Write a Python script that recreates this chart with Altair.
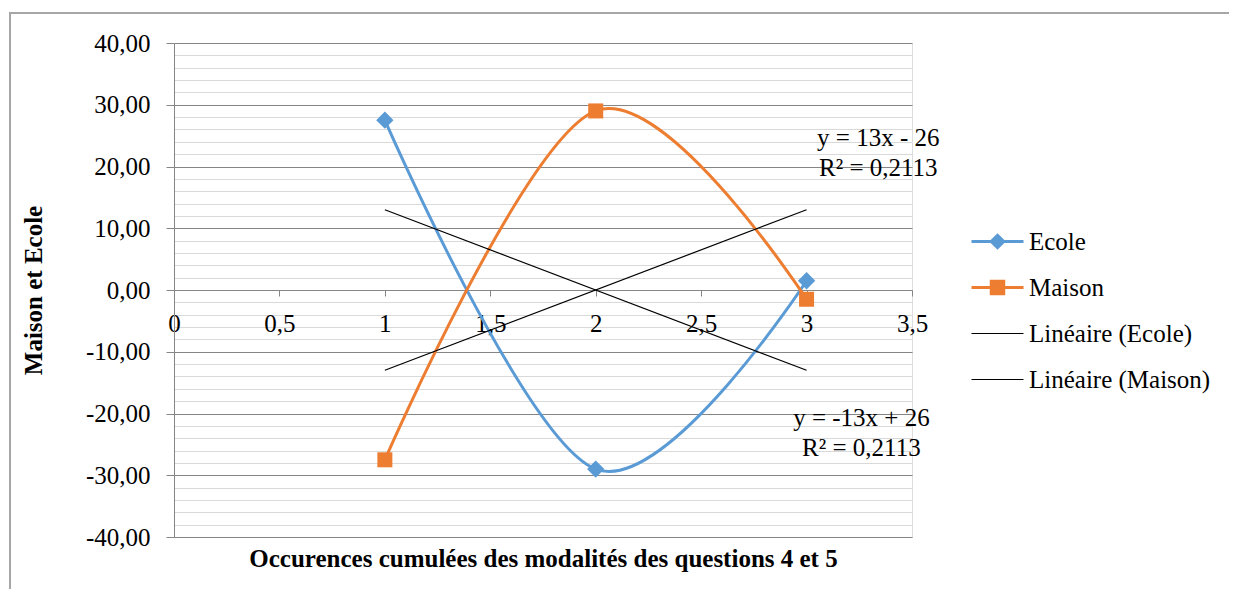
import altair as alt
import pandas as pd

# ---- data ----
x_vals = [1, 2, 3]
ecole = [27.5, -29.0, 1.5]
maison = [-27.5, 29.0, -1.5]
series_names = ["Ecole", "Maison", "Linéaire (Ecole)", "Linéaire (Maison)"]
series_colors = ["#5B9BD5", "#ED7D31", "#000000", "#000000"]

x_ticks = [0, 0.5, 1, 1.5, 2, 2.5, 3, 3.5]
y_ticks = list(range(-40, 41, 2))

ann_x = [3.34, 3.26]
ann_y = [24.6, -20.7]
ann_text = ["y = 13x - 26\nR² = 0,2113", "y = -13x + 26\nR² = 0,2113"]

FONT = "Liberation Serif"

df = pd.DataFrame(
    {"series": ["Ecole"] * 3 + ["Maison"] * 3,
     "x": x_vals + x_vals,
     "y": ecole + maison}
)
df_ann = pd.DataFrame({"x": ann_x, "y": ann_y, "text": ann_text})

xscale = alt.Scale(domain=[0, 3.5], nice=False, zero=False)
yscale = alt.Scale(domain=[-40, 40], nice=False)
cscale = alt.Scale(domain=series_names, range=series_colors)

shape_expr = ("datum.value === 'Ecole' ? 'M-1,0L1,0M0,-0.24L0.24,0L0,0.24L-0.24,0Z' : "
              "(datum.value === 'Maison' ? 'M-1,0L1,0M-0.24,-0.24L0.24,-0.24L0.24,0.24L-0.24,0.24Z' : 'M-1,0L1,0')")
sw_expr = "(datum.value === 'Ecole' || datum.value === 'Maison') ? 3 : 1"
col_expr = "scale('color', datum.value)"

legend = alt.Legend(
    title=None, orient="none", legendX=811, legendY=186,
    labelFont=FONT, labelFontSize=25, labelColor="#000000", labelOffset=19,
    symbolSize=2704, rowPadding=20, labelLimit=400,
    symbolType=alt.ExprRef(expr=shape_expr),
    symbolStrokeWidth=alt.ExprRef(expr=sw_expr),
    symbolFillColor=alt.ExprRef(expr=col_expr),
    symbolStrokeColor=alt.ExprRef(expr=col_expr),
    symbolOpacity=1,
)

xaxis = alt.Axis(
    values=x_ticks, tickCount=100, labelExpr="replace(toString(datum.value), '.', ',')",
    offset=-247, grid=False, domainColor="#868686", tickColor="#868686",
    tickSize=6, labelPadding=15, labelFont=FONT, labelFontSize=25, labelColor="#000000",
    title="Occurences cumulées des modalités des questions 4 et 5",
    titleFont=FONT, titleFontSize=25, titleFontWeight="bold", titleColor="#000000",
    titleY=268, titleBaseline="middle", labelFlush=False, labelOverlap=False,
)
yaxis = alt.Axis(
    values=y_ticks, tickCount=100,
    labelExpr="datum.value % 10 === 0 ? (datum.value < 0 ? '-' : '') + abs(datum.value) + ',00' : ''",
    grid=True,
    gridColor={"condition": {"test": "datum.value % 10 === 0", "value": "#858585"}, "value": "#d9d9d9"},
    tickColor={"condition": {"test": "datum.value % 10 === 0", "value": "#868686"}, "value": "transparent"},
    domainColor="#868686", tickSize=8, labelPadding=16,
    labelFont=FONT, labelFontSize=25, labelColor="#000000",
    title="Maison et Ecole", titleFont=FONT, titleFontSize=25, titleFontWeight="bold",
    titleColor="#000000", titleX=-141, titleY=247, titleAngle=270,
    titleAlign="center", titleBaseline="middle", labelFlush=False, labelOverlap=False,
)

base = alt.Chart(df)

lines = base.mark_line(interpolate="cardinal", strokeWidth=3).encode(
    x=alt.X("x:Q", scale=xscale, axis=xaxis),
    y=alt.Y("y:Q", scale=yscale, axis=yaxis),
    color=alt.Color("series:N", scale=cscale, legend=legend),
    detail="series:N",
)

trend = base.transform_regression(
    "x", "y", groupby=["series"], extent=[1, 3]
).transform_calculate(
    series="'Linéaire (' + datum.series + ')'"
).mark_line(strokeWidth=1.2).encode(
    x=alt.X("x:Q", scale=xscale),
    y=alt.Y("y:Q", scale=yscale),
    color=alt.Color("series:N", scale=cscale),
    detail="series:N",
)

pts_e = base.transform_filter("datum.series === 'Ecole'").mark_point(
    shape="diamond", filled=True, size=300, opacity=1
).encode(
    x=alt.X("x:Q", scale=xscale), y=alt.Y("y:Q", scale=yscale),
    color=alt.Color("series:N", scale=cscale),
)
pts_m = base.transform_filter("datum.series === 'Maison'").mark_point(
    shape="square", filled=True, size=225, opacity=1
).encode(
    x=alt.X("x:Q", scale=xscale), y=alt.Y("y:Q", scale=yscale),
    color=alt.Color("series:N", scale=cscale),
)

ann = alt.Chart(df_ann).mark_text(
    font=FONT, fontSize=25, color="#000000", align="center", baseline="middle",
    lineBreak="\n", lineHeight=30,
).encode(x=alt.X("x:Q", scale=xscale), y=alt.Y("y:Q", scale=yscale), text="text:N")

frame = alt.Chart(pd.DataFrame({"a": [0]})).mark_rect(
    fillOpacity=0, stroke="#a6a6a6", strokeWidth=2
).encode(
    x=alt.value(-164), x2=alt.value(1300), y=alt.value(-30), y2=alt.value(800)
)

chart = alt.layer(frame, lines, trend, pts_e, pts_m, ann).properties(
    width=738, height=494,
    autosize=alt.AutoSizeParams(type="none"),
    padding={"left": 166, "top": 35, "right": 317, "bottom": 52},
).configure_view(stroke=None).configure(background="#ffffff")

chart.save("out.html", embed_options={"renderer": "svg", "actions": False})
